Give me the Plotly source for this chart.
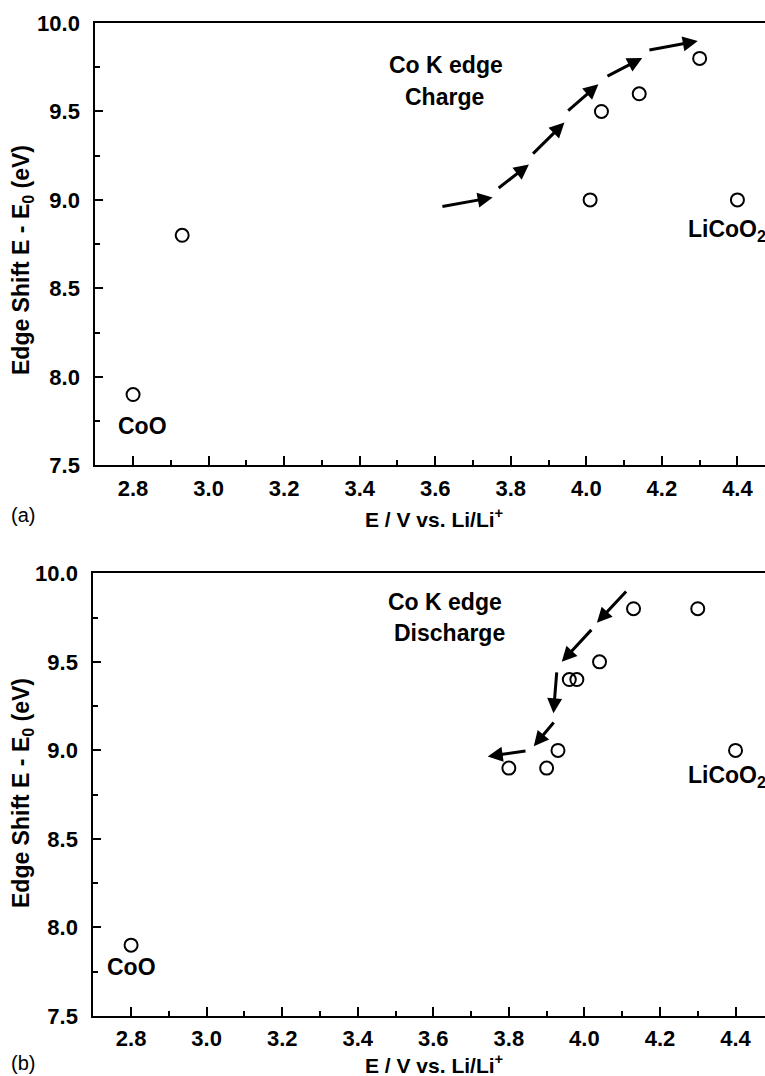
import plotly.graph_objects as go

# ---------------- data ----------------
charge_E = [2.80, 2.93, 4.01, 4.04, 4.14, 4.30, 4.40]
charge_shift = [7.90, 8.80, 9.00, 9.50, 9.60, 9.80, 9.00]

discharge_E = [2.80, 3.80, 3.90, 3.93, 3.96, 3.98, 4.04, 4.13, 4.30, 4.40]
discharge_shift = [7.90, 8.90, 8.90, 9.00, 9.40, 9.40, 9.50, 9.80, 9.80, 9.00]

# arrows (start x, start y, end x, end y) in data units
charge_arrows = [
    (3.615, 8.961, 3.752, 9.014),
    (3.764, 9.061, 3.848, 9.200),
    (3.855, 9.253, 3.942, 9.437),
    (3.948, 9.497, 4.032, 9.654),
    (4.052, 9.695, 4.148, 9.802),
    (4.163, 9.846, 4.295, 9.898),
]
discharge_arrows = [
    (4.114, 9.906, 4.033, 9.721),
    (4.022, 9.689, 3.940, 9.500),
    (3.927, 9.449, 3.918, 9.209),
    (3.922, 9.166, 3.866, 9.023),
    (3.848, 8.998, 3.744, 8.966),
]

x_ticks = [2.8, 3.0, 3.2, 3.4, 3.6, 3.8, 4.0, 4.2, 4.4]
y_ticks = [7.5, 8.0, 8.5, 9.0, 9.5, 10.0]

# ---------------- layout helpers ----------------
W, H = 765, 1076
ML, MR, MT, MB = 93, 0, 23, 60
PW, PH = W - ML - MR, H - MT - MB
FONT = "Liberation Sans, Arial, Helvetica, sans-serif"


def pxx(p):
    return (p - ML) / PW


def pxy(p):
    return (H - MB - p) / PH


fig = go.Figure()

fig.add_trace(go.Scatter(
    x=charge_E, y=charge_shift, mode="markers", xaxis="x", yaxis="y",
    marker=dict(symbol="circle-open", size=13, color="black", line=dict(width=2, color="black")),
    showlegend=False))
fig.add_trace(go.Scatter(
    x=discharge_E, y=discharge_shift, mode="markers", xaxis="x2", yaxis="y2",
    marker=dict(symbol="circle-open", size=13, color="black", line=dict(width=2, color="black")),
    showlegend=False))

tickfont = dict(family=FONT, size=22, color="black", weight="bold")

common_x = dict(
    showline=True, linecolor="black", linewidth=2, mirror=True,
    ticks="inside", ticklen=9, tickwidth=2, tickcolor="black",
    tickvals=x_ticks, ticktext=[f"{v:.1f}" for v in x_ticks],
    minor=dict(ticks="inside", ticklen=5, tickwidth=2, tickcolor="black", dtick=0.1, tick0=2.7),
    showgrid=False, zeroline=False, tickfont=tickfont, ticklabelstandoff=2,
)
common_y = dict(
    showline=True, linecolor="black", linewidth=2, mirror=False,
    ticks="inside", ticklen=8, tickwidth=2, tickcolor="black",
    tickvals=y_ticks, ticktext=[f"{v:.1f}" for v in y_ticks],
    minor=dict(ticks="inside", ticklen=5, tickwidth=2, tickcolor="black", dtick=0.25, tick0=7.5),
    showgrid=False, zeroline=False, tickfont=tickfont, ticklabelstandoff=9,
    range=[7.5, 10.0],
)

top_a = pxy(22.7)
bot_a = pxy(465.3)
top_b = pxy(573.3)

fig.update_layout(
    width=W, height=H,
    margin=dict(l=ML, r=MR, t=MT, b=MB),
    paper_bgcolor="white", plot_bgcolor="white",
    xaxis=dict(common_x, domain=[pxx(95.3), 1], range=[2.7, 4.473], anchor="y"),
    yaxis=dict(common_y, domain=[bot_a, min(top_a, 1)], anchor="x"),
    xaxis2=dict(common_x, domain=[pxx(93.3), 1], range=[2.7, 4.478], anchor="y2"),
    yaxis2=dict(common_y, domain=[0, top_b], anchor="x2"),
)

annotations = []
label_font = dict(family=FONT, size=23, color="black", weight="bold")
xtitle_font = dict(family=FONT, size=21, color="black", weight="bold")

# axis titles and panel tags
for xc_title, ytitle_c, tag, tag_y in [
    (518, 260, "(a)", 515),
    (1064, 793, "(b)", 1063),
]:
    annotations.append(dict(
        text="Edge Shift E - E<sub>0</sub> (eV)", textangle=-90,
        xref="paper", yref="paper", x=pxx(22), y=pxy(ytitle_c),
        showarrow=False, font=label_font, xanchor="center", yanchor="middle"))
    annotations.append(dict(
        text="E / V vs. Li/Li<sup>+</sup>",
        xref="paper", yref="paper", x=pxx(434), y=pxy(xc_title),
        showarrow=False, font=xtitle_font, xanchor="center", yanchor="middle"))
    annotations.append(dict(
        text=tag, xref="paper", yref="paper", x=pxx(23), y=pxy(tag_y),
        showarrow=False, font=dict(family=FONT, size=20, color="black"),
        xanchor="center", yanchor="middle"))

# in-plot texts
annotations += [
    dict(text="Co K edge", xref="paper", yref="paper", x=pxx(445.5), y=pxy(50),
         showarrow=False, font=label_font),
    dict(text="Charge", xref="paper", yref="paper", x=pxx(444), y=pxy(82),
         showarrow=False, font=label_font),
    dict(text="Co K edge", xref="paper", yref="paper", x=pxx(445), y=pxy(602),
         showarrow=False, font=label_font),
    dict(text="Discharge", xref="paper", yref="paper", x=pxx(449), y=pxy(633.5),
         showarrow=False, font=label_font),
    dict(text="CoO", xref="x", yref="y", x=charge_E[0], y=charge_shift[0],
         xshift=9, yshift=-31, showarrow=False, font=label_font),
    dict(text="CoO", xref="x2", yref="y2", x=discharge_E[0], y=discharge_shift[0],
         xshift=0, yshift=-22, showarrow=False, font=label_font),
    dict(text="LiCoO<sub>2</sub>", xref="x", yref="y", x=charge_E[-1], y=charge_shift[-1],
         xshift=-10, yshift=-31, showarrow=False, font=label_font),
    dict(text="LiCoO<sub>2</sub>", xref="x2", yref="y2", x=discharge_E[-1], y=discharge_shift[-1],
         xshift=-9, yshift=-26, showarrow=False, font=label_font),
]

for (x0, y0, x1, y1) in charge_arrows:
    annotations.append(dict(
        x=x1, y=y1, ax=x0, ay=y0, xref="x", yref="y", axref="x", ayref="y",
        showarrow=True, arrowhead=2, arrowsize=1.0, arrowwidth=3, arrowcolor="black",
        text=""))
for (x0, y0, x1, y1) in discharge_arrows:
    annotations.append(dict(
        x=x1, y=y1, ax=x0, ay=y0, xref="x2", yref="y2", axref="x2", ayref="y2",
        showarrow=True, arrowhead=2, arrowsize=1.0, arrowwidth=3, arrowcolor="black",
        text=""))

fig.update_layout(annotations=annotations)
fig.write_html("out.html")
